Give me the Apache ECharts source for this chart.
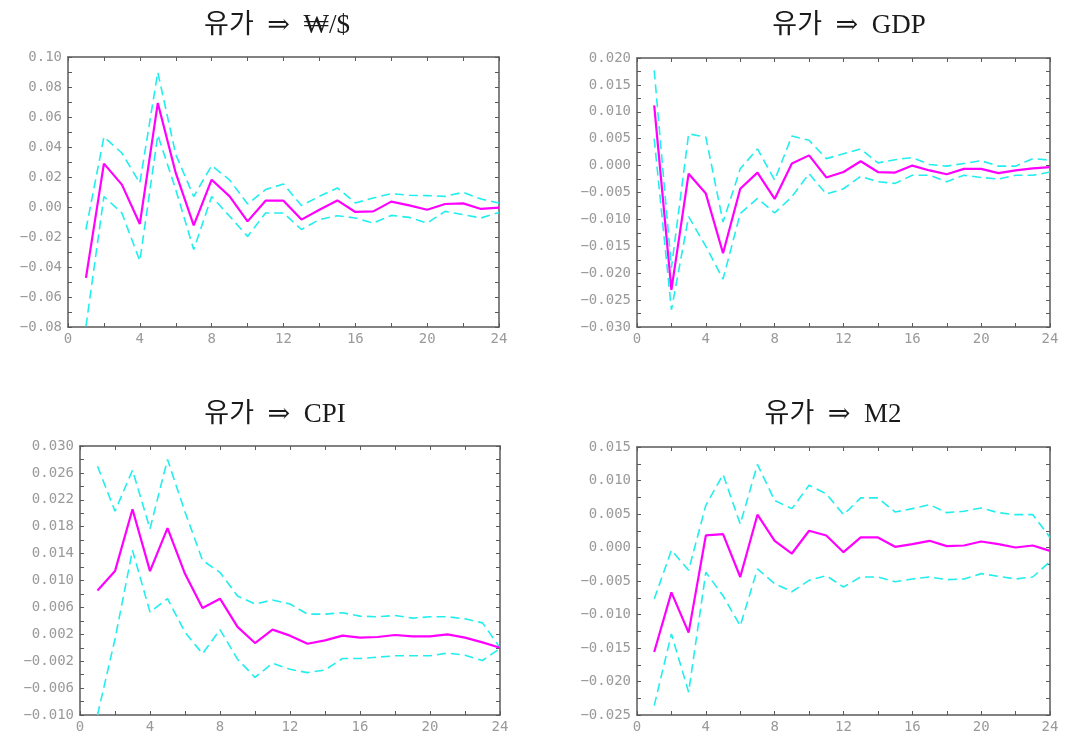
<!DOCTYPE html>
<html>
<head>
<meta charset="utf-8">
<script src="https://cdn.jsdelivr.net/npm/echarts@6/dist/echarts.min.js"></script>
<style>
  html, body { margin: 0; padding: 0; background: #fff; }
  #chart { width: 1072px; height: 733px; }
</style>
</head>
<body>
<div id="chart"></div>
<script>
// Impulse responses to an oil price shock, 24 periods, with confidence bands
const periods = [1, 2, 3, 4, 5, 6, 7, 8, 9, 10, 11, 12, 13, 14, 15, 16, 17, 18, 19, 20, 21, 22, 23, 24];

const titles = ['유가  ⇒  ₩/$', '유가  ⇒  GDP', '유가  ⇒  CPI', '유가  ⇒  M2'];

// 유가 ⇒ ₩/$
const fxResp  = [-0.0473, 0.0289, 0.0149, -0.0113, 0.0693, 0.0227, -0.0122, 0.0182, 0.0071, -0.0096, 0.0042, 0.0042, -0.0084, -0.0018, 0.0044, -0.0033, -0.0029, 0.0036, 0.0011, -0.0018, 0.0020, 0.0024, -0.0013, -0.0004];
const fxUpper = [-0.0150, 0.0467, 0.0360, 0.0160, 0.0898, 0.0350, 0.0070, 0.0276, 0.0180, 0.0020, 0.0116, 0.0153, 0.0010, 0.0071, 0.0127, 0.0027, 0.0060, 0.0089, 0.0078, 0.0076, 0.0071, 0.0098, 0.0053, 0.0027];
const fxLower = [-0.0796, 0.0070, -0.0040, -0.0360, 0.0480, 0.0116, -0.0284, 0.0070, -0.0062, -0.0196, -0.0040, -0.0040, -0.0150, -0.0084, -0.0058, -0.0073, -0.0107, -0.0056, -0.0069, -0.0107, -0.0029, -0.0051, -0.0073, -0.0036];

// 유가 ⇒ GDP
const gdpResp  = [0.0112, -0.0231, -0.0015, -0.0052, -0.0163, -0.0043, -0.0013, -0.0062, 0.0004, 0.0019, -0.0022, -0.0012, 0.0008, -0.0012, -0.0013, 0.0000, -0.0009, -0.0016, -0.0006, -0.0006, -0.0014, -0.0009, -0.0005, -0.0003];
const gdpUpper = [0.0177, -0.0190, 0.0059, 0.0053, -0.0105, -0.0006, 0.0031, -0.0027, 0.0055, 0.0047, 0.0013, 0.0022, 0.0031, 0.0005, 0.0011, 0.0015, 0.0002, -0.0001, 0.0004, 0.0009, -0.0001, -0.0001, 0.0013, 0.0010];
const gdpLower = [0.0050, -0.0268, -0.0095, -0.0150, -0.0211, -0.0089, -0.0061, -0.0088, -0.0058, -0.0015, -0.0053, -0.0043, -0.0020, -0.0030, -0.0033, -0.0018, -0.0018, -0.0030, -0.0018, -0.0022, -0.0025, -0.0018, -0.0018, -0.0012];

// 유가 ⇒ CPI
const cpiResp  = [0.0085, 0.0114, 0.0206, 0.0114, 0.0178, 0.0110, 0.0059, 0.0073, 0.0031, 0.0007, 0.0027, 0.0018, 0.0006, 0.0011, 0.0018, 0.0015, 0.0016, 0.0019, 0.0017, 0.0017, 0.0020, 0.0015, 0.0008, 0.0000];
const cpiUpper = [0.0270, 0.0203, 0.0264, 0.0177, 0.0280, 0.0202, 0.0130, 0.0112, 0.0077, 0.0065, 0.0071, 0.0065, 0.0050, 0.0050, 0.0052, 0.0047, 0.0046, 0.0048, 0.0044, 0.0046, 0.0046, 0.0043, 0.0037, 0.0000];
const cpiLower = [-0.0100, 0.0013, 0.0145, 0.0053, 0.0073, 0.0023, -0.0009, 0.0027, -0.0017, -0.0044, -0.0023, -0.0032, -0.0037, -0.0033, -0.0016, -0.0016, -0.0014, -0.0012, -0.0012, -0.0012, -0.0008, -0.0011, -0.0019, -0.0001];

// 유가 ⇒ M2
const m2Resp  = [-0.0156, -0.0067, -0.0127, 0.0018, 0.0020, -0.0044, 0.0049, 0.0010, -0.0009, 0.0025, 0.0018, -0.0007, 0.0015, 0.0015, 0.0001, 0.0005, 0.0010, 0.0002, 0.0003, 0.0009, 0.0005, 0.0000, 0.0003, -0.0005];
const m2Upper = [-0.0077, -0.0004, -0.0034, 0.0063, 0.0109, 0.0035, 0.0124, 0.0070, 0.0058, 0.0093, 0.0080, 0.0049, 0.0074, 0.0074, 0.0053, 0.0058, 0.0064, 0.0052, 0.0054, 0.0059, 0.0052, 0.0049, 0.0049, 0.0015];
const m2Lower = [-0.0236, -0.0129, -0.0216, -0.0037, -0.0072, -0.0117, -0.0032, -0.0054, -0.0066, -0.0049, -0.0042, -0.0059, -0.0044, -0.0044, -0.0051, -0.0047, -0.0044, -0.0048, -0.0047, -0.0039, -0.0043, -0.0047, -0.0044, -0.0021];

// y-axis ranges: [min, max, label step, decimals]
const yRanges = [
  [-0.08, 0.10, 0.02, 2],
  [-0.030, 0.020, 0.005, 3],
  [-0.010, 0.030, 0.004, 3],
  [-0.025, 0.015, 0.005, 3]
];

const panels = [
  [fxResp, fxUpper, fxLower],
  [gdpResp, gdpUpper, gdpLower],
  [cpiResp, cpiUpper, cpiLower],
  [m2Resp, m2Upper, m2Lower]
];

// layout of the four plot frames
const grids = [
  { left: 68,  top: 57,  width: 431, height: 270 },
  { left: 637, top: 58,  width: 413, height: 269 },
  { left: 80,  top: 446, width: 420, height: 269 },
  { left: 637, top: 447, width: 413, height: 268 }
];
const titlePos = [
  { x: 272, y: 7 },
  { x: 844, y: 7 },
  { x: 270, y: 396 },
  { x: 828, y: 396 }
];

const frameColor = '#5a5a5a';
const labelStyle = { color: '#9a9a9a', fontFamily: 'DejaVu Sans Mono', fontSize: 14 };

function fmtY(v, d) {
  if (Math.abs(v) < 1e-9) v = 0;
  const s = v.toFixed(d);
  return s.replace('-', '\u2212');
}

const option = {
  animation: false,
  backgroundColor: '#ffffff',
  title: titles.map((t, i) => ({
    text: t,
    left: titlePos[i].x,
    top: titlePos[i].y,
    textAlign: 'center',
    textStyle: {
      fontFamily: "'Liberation Serif', 'DejaVu Serif', 'Noto Sans CJK KR', serif",
      fontSize: 27,
      fontWeight: 'normal',
      color: '#1a1a1a'
    }
  })),
  grid: grids.map(g => Object.assign({ containLabel: false, outerBoundsMode: 'none' }, g)),
  xAxis: [],
  yAxis: [],
  series: []
};

grids.forEach((g, i) => {
  const [yMin, yMax, yStep, dec] = yRanges[i];
  const tickStep = yStep / 2;
  const axisLine = { show: true, onZero: false, lineStyle: { color: frameColor, width: 1.5 } };
  const tick = { show: true, inside: true, length: 4, lineStyle: { color: frameColor, width: 1 } };

  // bottom axis with labels, top axis as frame
  option.xAxis.push({
    type: 'value', gridIndex: i, position: 'bottom', min: 0, max: 24, interval: 2,
    axisLine, axisTick: tick, splitLine: { show: false },
    axisLabel: Object.assign({ margin: 5, formatter: v => (v % 4 === 0 ? String(v) : '') }, labelStyle)
  });
  option.xAxis.push({
    type: 'value', gridIndex: i, position: 'top', min: 0, max: 24, interval: 2,
    axisLine, axisTick: tick, splitLine: { show: false }, axisLabel: { show: false }
  });
  // left axis with labels, right axis as frame
  option.yAxis.push({
    type: 'value', gridIndex: i, position: 'left', min: yMin, max: yMax, interval: tickStep,
    axisLine, axisTick: tick, splitLine: { show: false },
    axisLabel: Object.assign({
      margin: 6,
      formatter: v => {
        const k = (v - yMin) / yStep;
        return Math.abs(k - Math.round(k)) < 1e-6 ? fmtY(v, dec) : '';
      }
    }, labelStyle)
  });
  option.yAxis.push({
    type: 'value', gridIndex: i, position: 'right', min: yMin, max: yMax, interval: tickStep,
    axisLine, axisTick: tick, splitLine: { show: false }, axisLabel: { show: false }
  });

  const [resp, upper, lower] = panels[i];
  const pairs = arr => periods.map((p, k) => [p, arr[k]]);
  const band = arr => ({
    type: 'line', xAxisIndex: i * 2, yAxisIndex: i * 2, data: pairs(arr),
    showSymbol: false, silent: true,
    lineStyle: { color: '#22eeee', width: 1.6, type: [9, 5] }
  });
  option.series.push(band(upper));
  option.series.push(band(lower));
  option.series.push({
    type: 'line', xAxisIndex: i * 2, yAxisIndex: i * 2, data: pairs(resp),
    showSymbol: false, silent: true,
    lineStyle: { color: '#ff00ff', width: 2.2 }
  });
});

const chart = echarts.init(document.getElementById('chart'), null, { renderer: 'canvas' });
chart.setOption(option);
</script>
</body>
</html>
